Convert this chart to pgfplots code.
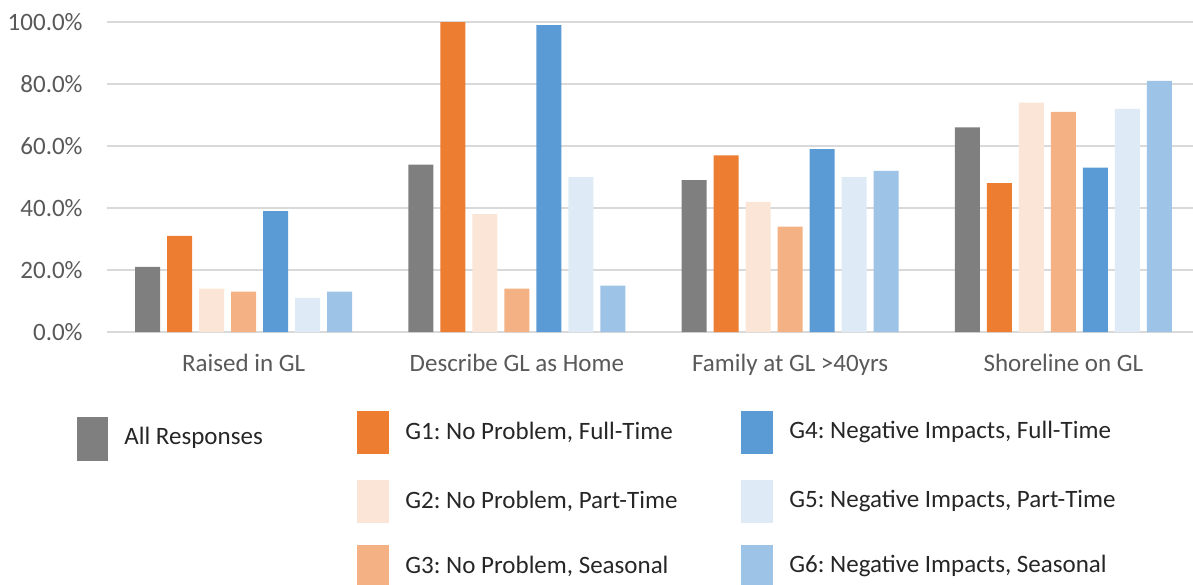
\documentclass[border=0pt]{standalone}
\usepackage{pgfplots}
\pgfplotsset{compat=1.18}
\usepackage{fontspec}
\setmainfont{Carlito}
\frenchspacing
\definecolor{cAll}{HTML}{7F7F7F}
\definecolor{cG1}{HTML}{ED7D31}
\definecolor{cG2}{HTML}{FBE5D6}
\definecolor{cG3}{HTML}{F4B183}
\definecolor{cG4}{HTML}{5B9BD5}
\definecolor{cG5}{HTML}{DEEBF7}
\definecolor{cG6}{HTML}{9DC3E6}
\definecolor{gridc}{HTML}{D9D9D9}
\definecolor{labc}{HTML}{595959}
\definecolor{legc}{HTML}{262626}
\begin{document}
\frenchspacing
\begin{tikzpicture}
\path[use as bounding box] (-53.5pt,-126pt) rectangle (543pt,166pt);
\begin{axis}[
  at={(0,0)}, anchor=south west,
  scale only axis, width=546.5pt, height=155pt,
  xmin=-0.5, xmax=3.5, ymin=0, ymax=100,
  enlargelimits=false,
  ybar=3.5pt, bar width=12.5pt,
  axis line style={draw=none},
  major tick length=0pt,
  xtick={0,1,2,3},
  xticklabels={Raised in GL, Describe GL as Home, Family at GL >40yrs, Shoreline on GL},
  ytick={0,20,40,60,80,100},
  yticklabels={0.0\%,20.0\%,40.0\%,60.0\%,80.0\%,100.0\%},
  ymajorgrids, grid style={gridc, line width=0.75pt},
  tick label style={font=\fontsize{12.5}{15}\selectfont, text=labc},
  yticklabel style={anchor=east, inner sep=0pt, xshift=-12pt},
  xticklabel style={anchor=north, inner sep=0pt, yshift=-11pt},
  every axis plot/.append style={draw=none},
  clip=false,
]
\addplot[fill=cAll] coordinates {(0,21) (1,54) (2,49) (3,66)};
\addplot[fill=cG1] coordinates {(0,31) (1,100) (2,57) (3,48)};
\addplot[fill=cG2] coordinates {(0,14) (1,38) (2,42) (3,74)};
\addplot[fill=cG3] coordinates {(0,13) (1,14) (2,34) (3,71)};
\addplot[fill=cG4] coordinates {(0,39) (1,99) (2,59) (3,53)};
\addplot[fill=cG5] coordinates {(0,11) (1,50) (2,50) (3,72)};
\addplot[fill=cG6] coordinates {(0,13) (1,15) (2,52) (3,81)};
\end{axis}
% legend
\begin{scope}[every node/.style={anchor=west, inner sep=0pt, text=legc, font=\fontsize{12.5}{15}\selectfont}]
\fill[cAll] (-15pt,-42.5pt) rectangle (0.5pt,-64.5pt);
\node at (8.5pt,-53pt) {All Responses};
\fill[cG1] (125pt,-39.5pt) rectangle (141pt,-61pt);
\node at (149pt,-50pt) {G1: No Problem, Full-Time};
\fill[cG2] (125pt,-74pt) rectangle (141pt,-95.5pt);
\node at (149pt,-84.5pt) {G2: No Problem, Part-Time};
\fill[cG3] (125pt,-106.5pt) rectangle (141pt,-128.5pt);
\node at (149pt,-117pt) {G3: No Problem, Seasonal};
\fill[cG4] (317pt,-39.5pt) rectangle (333pt,-61pt);
\node at (341pt,-50pt) {G4: Negative Impacts, Full-Time};
\fill[cG5] (317pt,-74pt) rectangle (333pt,-95.5pt);
\node at (341pt,-84.5pt) {G5: Negative Impacts, Part-Time};
\fill[cG6] (317pt,-106.5pt) rectangle (333pt,-128.5pt);
\node at (341pt,-117pt) {G6: Negative Impacts, Seasonal};
\end{scope}
\end{tikzpicture}
\end{document}
